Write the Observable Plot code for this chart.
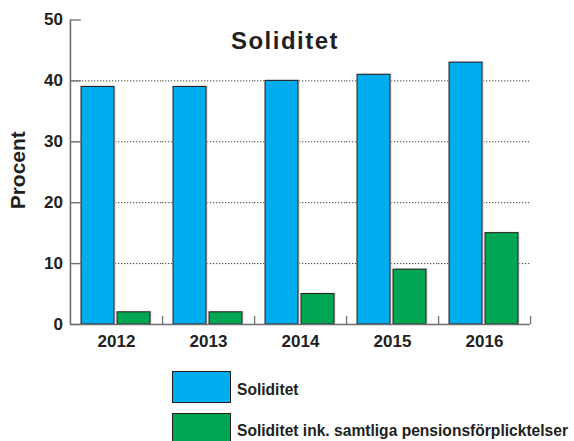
<!DOCTYPE html>
<html><head><meta charset="utf-8">
<script src="https://cdn.jsdelivr.net/npm/d3@7"></script>
<script src="https://cdn.jsdelivr.net/npm/@observablehq/plot@0.6"></script>
<style>
body{margin:0;background:#fff;font-family:"Liberation Sans",Arial,sans-serif;}
#wrap{position:relative;width:574px;height:441px;overflow:hidden;background:#fff;}
#wrap svg{display:block;}
.title{position:absolute;left:185px;width:200px;top:29px;text-align:center;font-size:24px;line-height:24px;font-weight:bold;letter-spacing:1.5px;color:#231f20;}
.sw{position:absolute;left:172px;width:57px;height:30px;border:1px solid #231f20;}
.lt{position:absolute;left:237px;font-size:15.6px;line-height:15.6px;font-weight:bold;color:#231f20;white-space:nowrap;}
</style></head><body><div id="wrap"></div>
<script>
const years = ["2012", "2013", "2014", "2015", "2016"];
const series = ["Soliditet", "Soliditet ink. samtliga pensionsförplicktelser"];
const soliditet = [39, 39, 40, 41, 43];
const soliditetInk = [2, 2, 5, 9, 15];
const colors = ["#00AEEF", "#00A651"];
const yTicks = [0, 10, 20, 30, 40, 50];
const gridTicks = [10, 20, 30, 40];
const titleText = "Soliditet";
const yLabel = "Procent";

const data = years.flatMap((y, i) => [
  {year: y, series: series[0], value: soliditet[i]},
  {year: y, series: series[1], value: soliditetInk[i]}
]);

const W = 574, H = 356, mL = 70, mR = 43.3, mT = 19.5, mB = 32;
const step = (W - mL - mR) / years.length;
const axisColor = "#6d6e71";
const ink = "#231f20";

const chart = Plot.plot({
  width: W, height: H,
  marginLeft: mL, marginRight: mR, marginTop: mT, marginBottom: mB,
  style: {fontFamily: "'Liberation Sans', Arial, sans-serif", background: "white", color: ink},
  fx: {domain: years, padding: 0, label: null, axis: null},
  x: {domain: series, paddingInner: 0.082, paddingOuter: 0.30, axis: null},
  y: {domain: [0, 50], axis: null},
  color: {domain: series, range: colors},
  marks: [
    Plot.ruleY(gridTicks, {stroke: "#444", strokeDasharray: "1.3,1.7", strokeWidth: 1}),
    Plot.barY(data, {fx: "year", x: "series", y: "value", fill: "#d4d4d4", dx: 1.5, dy: -1}),
    Plot.barY(data, {fx: "year", x: "series", y: "value", fill: "series", stroke: ink, strokeWidth: 1}),
    Plot.ruleY([0], {stroke: axisColor, strokeWidth: 1.6}),
    Plot.ruleX(years, {fx: d => d, x: null, y1: 0, y2: 1.3, dx: step / 2, stroke: axisColor, strokeWidth: 1.3}),
    Plot.ruleX([years[0]], {fx: d => d, x: null, y1: 0, y2: 50, dx: -step / 2, stroke: axisColor, strokeWidth: 1.6}),
    Plot.ruleY(yTicks, {fx: () => years[0], insetRight: step - 11, stroke: axisColor, strokeWidth: 1.3}),
    Plot.axisY({ticks: yTicks, tickSize: 0, tickPadding: 7.5, fontSize: 17, fontWeight: "bold", fill: ink, label: null}),
    Plot.axisFx({anchor: "bottom", tickSize: 0, tickPadding: 10, fontSize: 17, fontWeight: "bold", fill: ink, label: null}),
    Plot.text([yLabel], {fx: () => years[0], frameAnchor: "left", textAnchor: "middle", rotate: -90, dx: -52, dy: -2, fontSize: 21, fontWeight: "bold", fill: ink})
  ]
});

const wrap = document.getElementById("wrap");
wrap.appendChild(chart);

const t = document.createElement("div");
t.className = "title"; t.textContent = titleText;
wrap.appendChild(t);

const swTops = [371, 413];
const txtTops = [382, 423];
series.forEach((s, i) => {
  const sw = document.createElement("div");
  sw.className = "sw"; sw.style.top = swTops[i] + "px"; sw.style.background = colors[i];
  wrap.appendChild(sw);
  const lt = document.createElement("div");
  lt.className = "lt"; lt.style.top = txtTops[i] + "px"; lt.textContent = s;
  wrap.appendChild(lt);
});
</script>
</body></html>
